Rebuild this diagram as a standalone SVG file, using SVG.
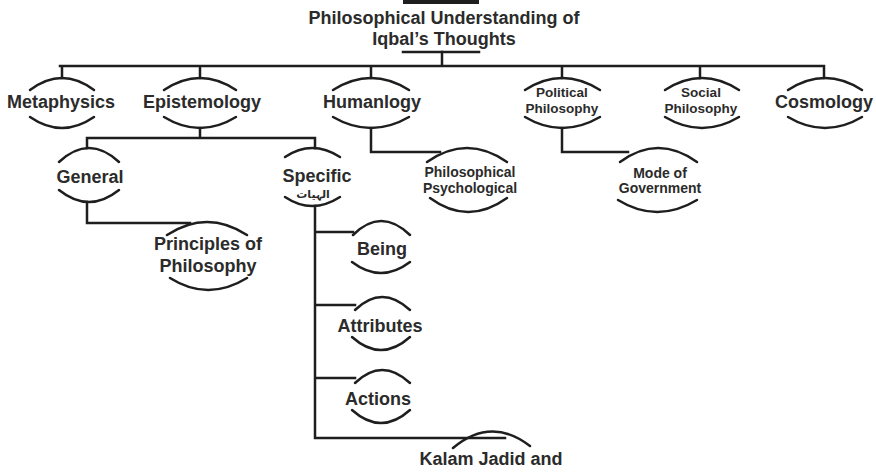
<svg xmlns="http://www.w3.org/2000/svg" width="876" height="474" viewBox="0 0 876 474">
<style>
.t{font-family:"Liberation Sans",Arial,sans-serif;font-weight:bold;fill:#2b2b2b;text-anchor:middle}
.b{font-size:18px}
.s{font-size:14px}
.p{font-size:13.5px}
.ur{font-family:"Noto Sans","DejaVu Sans",sans-serif;font-size:11px;font-weight:bold;fill:#2b2b2b;text-anchor:middle}
.a{fill:none;stroke:#1e1e1e;stroke-width:2.5;stroke-linecap:round}
.c{fill:none;stroke:#1e1e1e;stroke-width:2.5;stroke-linecap:square}
</style>
<rect width="876" height="474" fill="#ffffff"/>
<g id="connectors">
<path class="c" d="M442,52 V66 M60,66 H824 M62,66 V78 M200,66 V78 M371,66 V78 M562,66 V78 M700,66 V78 M824,66 V78"/>
<path class="c" d="M200,128 V138 M87,138 H315 M87,138 V148 M315,138 V148"/>
<path class="c" d="M87,202 V223 H190"/>
<path class="c" d="M315,206 V438 H505 M315,232 H353 M315,305 H355 M315,378 H355"/>
<path class="c" d="M371,128 V152 H440"/>
<path class="c" d="M562,128 V152 H628"/>
</g>
<g id="title">
<rect x="403" y="0" width="76" height="4" fill="#1e1e1e"/>
<text class="t b" x="444" y="24">Philosophical Understanding of</text>
<text class="t b" x="444" y="45">Iqbal’s Thoughts</text>
<path class="c" d="M403,52 H479"/>
</g>
<g id="metaphysics">
<path class="a" d="M30,90 Q62,66 94,90 M30,117 Q62,139 94,117"/>
<text class="t b" x="61" y="108">Metaphysics</text>
</g>
<g id="epistemology">
<path class="a" d="M164,90 Q200,66 236,90 M164,117 Q200,139 236,117"/>
<text class="t b" x="202" y="108">Epistemology</text>
</g>
<g id="humanlogy">
<path class="a" d="M333,90 Q371,66 409,90 M333,117 Q371,139 409,117"/>
<text class="t b" x="372" y="108">Humanlogy</text>
</g>
<g id="political-philosophy">
<path class="a" d="M525,90 Q562,66 600,90 M525,117 Q562,139 600,117"/>
<text class="t p" x="562" y="97">Political</text>
<text class="t p" x="562" y="113">Philosophy</text>
</g>
<g id="social-philosophy">
<path class="a" d="M665,90 Q702,66 739,90 M665,117 Q702,139 739,117"/>
<text class="t p" x="701" y="97">Social</text>
<text class="t p" x="701" y="113">Philosophy</text>
</g>
<g id="cosmology">
<path class="a" d="M788,90 Q825,66 862,90 M788,117 Q825,139 862,117"/>
<text class="t b" x="824" y="108">Cosmology</text>
</g>
<g id="general">
<path class="a" d="M59,162 Q89,134 119,162 M59,190 Q89,214 119,190"/>
<text class="t b" x="90" y="183">General</text>
</g>
<g id="principles">
<path class="a" d="M167,235 Q207,209 247,235 M170,278 Q208,302 247,278"/>
<text class="t b" x="208" y="250">Principles of</text>
<text class="t b" x="208" y="272">Philosophy</text>
</g>
<g id="specific">
<path class="a" d="M285,157 Q312,139 340,157 M285,197 Q312,215 340,197"/>
<text class="t b" x="317" y="182">Specific</text>
<text class="ur" x="313" y="198" direction="rtl">الہیات</text>
</g>
<g id="being">
<path class="a" d="M353,235 Q381,207 410,235 M352,262 Q381,284 410,262"/>
<text class="t b" x="382" y="255">Being</text>
</g>
<g id="attributes">
<path class="a" d="M355,310 Q382,284 410,310 M352,337 Q381,363 410,337"/>
<text class="t b" x="380" y="332">Attributes</text>
</g>
<g id="actions">
<path class="a" d="M355,383 Q382,357 410,383 M352,410 Q381,436 410,410"/>
<text class="t b" x="378" y="405">Actions</text>
</g>
<g id="kalam">
<path class="a" d="M453,448 Q491,416 530,446"/>
<text class="t b" x="491" y="465">Kalam Jadid and</text>
</g>
<g id="philosophical-psychological">
<path class="a" d="M427,162 Q467,134 507,162 M430,198 Q468,226 507,198"/>
<text class="t s" x="470" y="177">Philosophical</text>
<text class="t s" x="470" y="193">Psychological</text>
</g>
<g id="mode-of-government">
<path class="a" d="M620,162 Q658,134 697,162 M618,200 Q657,224 697,200"/>
<text class="t s" x="660" y="178">Mode of</text>
<text class="t s" x="660" y="193">Government</text>
</g>
</svg>
